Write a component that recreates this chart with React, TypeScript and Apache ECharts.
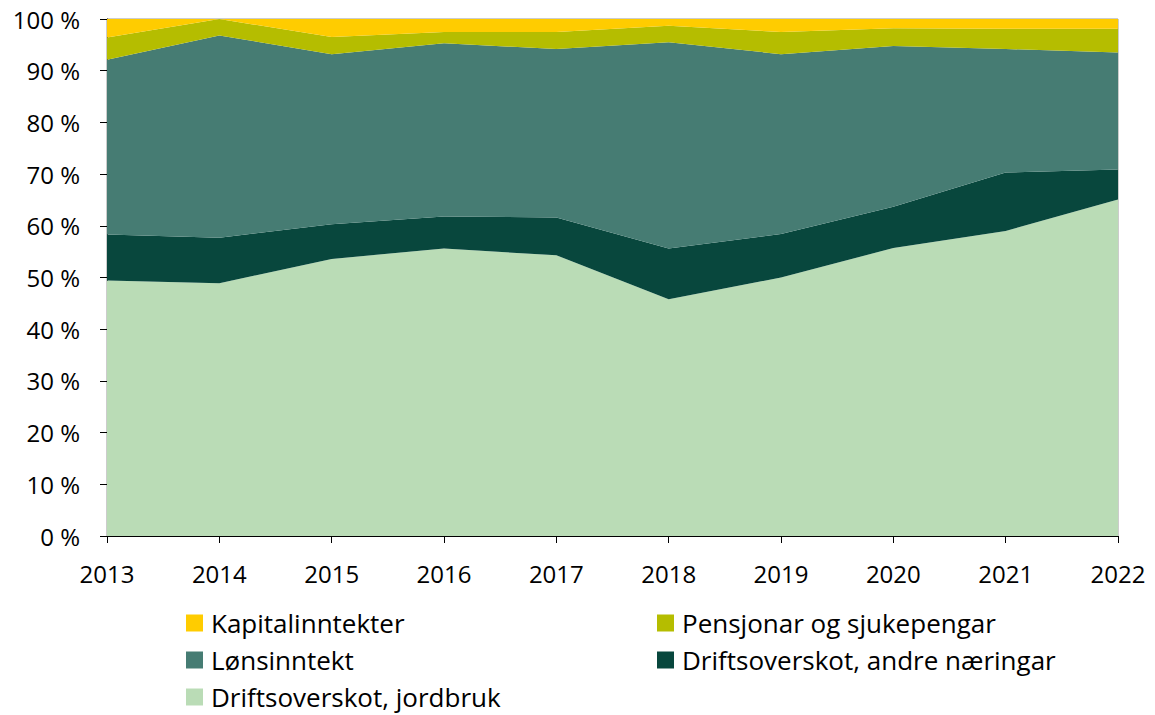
import React, { useEffect, useRef } from "react";
import * as echarts from "echarts";

const years = ["2013", "2014", "2015", "2016", "2017", "2018", "2019", "2020", "2021", "2022"];
const jordbruk = [49.4, 48.9, 53.6, 55.6, 54.3, 45.8, 50.0, 55.7, 59.0, 65.1];
const andre = [8.9, 8.8, 6.7, 6.2, 7.3, 9.8, 8.4, 8.0, 11.3, 5.8];
const lonn = [33.8, 39.1, 32.9, 33.5, 32.6, 39.9, 34.8, 31.1, 23.9, 22.6];
const pensjon = [4.3, 3.2, 3.3, 2.2, 3.3, 3.2, 4.3, 3.4, 3.9, 4.6];
const kapital = [3.6, 0.0, 3.5, 2.5, 2.5, 1.3, 2.5, 1.8, 1.9, 1.9];

const names = {
  kapital: "Kapitalinntekter",
  pensjon: "Pensjonar og sjukepengar",
  lonn: "Lønsinntekt",
  andre: "Driftsoverskot, andre næringar",
  jordbruk: "Driftsoverskot, jordbruk",
};

const colors = {
  kapital: "#FFCC00",
  pensjon: "#B5BD00",
  lonn: "#467C73",
  andre: "#08473D",
  jordbruk: "#BADCB6",
};

const FONT = "'Open Sans', 'Liberation Sans', sans-serif";

export default function App() {
  const ref = useRef<HTMLDivElement>(null);
  useEffect(() => {
    if (!ref.current) return;
    const chart = echarts.init(ref.current, null, { renderer: "svg" });
    const mk = (key: keyof typeof names, data: number[]) => ({
      name: names[key],
      type: "line",
      stack: "total",
      data,
      symbol: "none",
      lineStyle: { width: 0 },
      areaStyle: { color: colors[key], opacity: 1 },
      itemStyle: { color: colors[key] },
      emphasis: { disabled: true },
    });
    const legendItem = (name: string, left: number, top: number) => ({
      data: [name],
      left,
      top,
      itemWidth: 17,
      itemHeight: 17,
      icon: "rect",
      itemGap: 0,
      textStyle: { fontSize: 26, color: "#000", fontFamily: FONT, padding: [0, 0, 0, 3] },
      padding: 0,
    });
    chart.setOption({
      animation: false,
      textStyle: { fontFamily: FONT },
      grid: {
        left: 107,
        right: 37,
        top: 19,
        bottom: 179,
        show: true,
        borderColor: "#999",
        borderWidth: 1,
      },
      legend: [
        legendItem(names.kapital, 186, 610),
        legendItem(names.pensjon, 657, 610),
        legendItem(names.lonn, 186, 647),
        legendItem(names.andre, 657, 647),
        legendItem(names.jordbruk, 186, 684),
      ],
      xAxis: {
        type: "category",
        data: years,
        boundaryGap: false,
        axisLine: { lineStyle: { color: "#000", width: 1 } },
        axisTick: { show: true, length: 7, lineStyle: { color: "#000" } },
        axisLabel: { fontSize: 24, color: "#000", margin: 25, fontFamily: FONT },
        splitLine: { show: false },
      },
      yAxis: {
        type: "value",
        min: 0,
        max: 100,
        interval: 10,
        axisLine: { show: true, lineStyle: { color: "#000", width: 1 } },
        axisTick: { show: true, length: 7, lineStyle: { color: "#000" } },
        axisLabel: { fontSize: 24, color: "#000", margin: 27, formatter: "{value} %", fontFamily: FONT },
        splitLine: { show: false },
      },
      series: [
        mk("jordbruk", jordbruk),
        mk("andre", andre),
        mk("lonn", lonn),
        mk("pensjon", pensjon),
        mk("kapital", kapital),
      ],
    });
    return () => chart.dispose();
  }, []);
  return (
    <div
      ref={ref}
      style={{ position: "fixed", left: 0, top: 0, width: 1155, height: 715, background: "#fff" }}
    />
  );
}
